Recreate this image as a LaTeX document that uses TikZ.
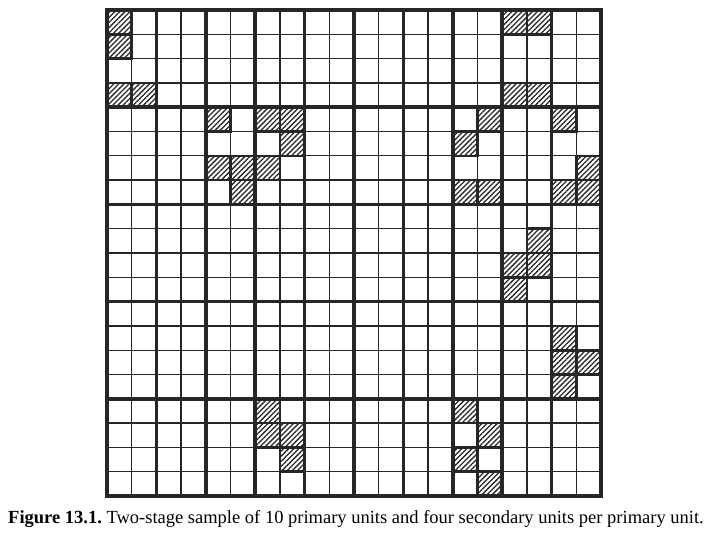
\documentclass[tikz,border=0pt]{standalone}
\usepackage{fontspec}
\setmainfont{Liberation Serif}
\usetikzlibrary{patterns.meta}

\newcommand\sampledcells{0/0, 0/1, 0/3, 1/3,
  4/4, 4/6, 5/6, 5/7,
  6/4, 7/4, 7/5, 6/6,
  16/0, 17/0, 16/3, 17/3,
  15/4, 14/5, 14/7, 15/7,
  18/4, 19/6, 18/7, 19/7,
  17/9, 16/10, 17/10, 16/11,
  18/13, 18/14, 19/14, 18/15,
  14/16, 15/17, 14/18, 15/19,
  6/16, 6/17, 7/17, 7/18}

\tikzset{
  secondary/.style = {line width = 1.3pt, draw = black!85},
  primary/.style = {line width = 3.6pt, line cap = rect, draw = black!85},
  hatched/.style = {pattern = {Lines[angle = 45, distance = 3.6pt, line width = 1.3pt]}, pattern color = black!85},
  sampled/.style = {line width = 2.6pt, draw = black!85}
}

\begin{document}
\begin{tikzpicture}[x = 24.7pt, y = -24.3pt]
\useasboundingbox (-4.332,-0.4115) rectangle (24.494,22.181);

  % hatched secondary units
\foreach \c/\r in \sampledcells
    \fill[hatched] (\c,\r) rectangle ++(1,1);

  % secondary grid
\foreach \i in {1,...,19} {
    \draw[secondary] (\i,0) -- (\i,20);
    \draw[secondary] (0,\i) -- (20,\i);
}

\foreach \c/\r in \sampledcells
    \draw[sampled] (\c,\r) rectangle ++(1,1);

  % primary units
\begin{scope}[primary]
    \foreach \c in {2,4,...,18}
        \draw (\c,0) -- (\c,20);
    \foreach \r in {4,8,...,16}
        \draw (0,\r) -- (20,\r);
    \draw (0,0) rectangle (20,20);
\end{scope}

  % caption
\node[anchor = base, inner sep = 0pt, font = \fontsize{18.5}{22}\selectfont] (caption) at (10.08,21.15)
    {\textbf{Figure 13.1.}\ Two-stage sample of 10 primary units and four secondary units per primary unit.};

\end{tikzpicture}
\end{document}
